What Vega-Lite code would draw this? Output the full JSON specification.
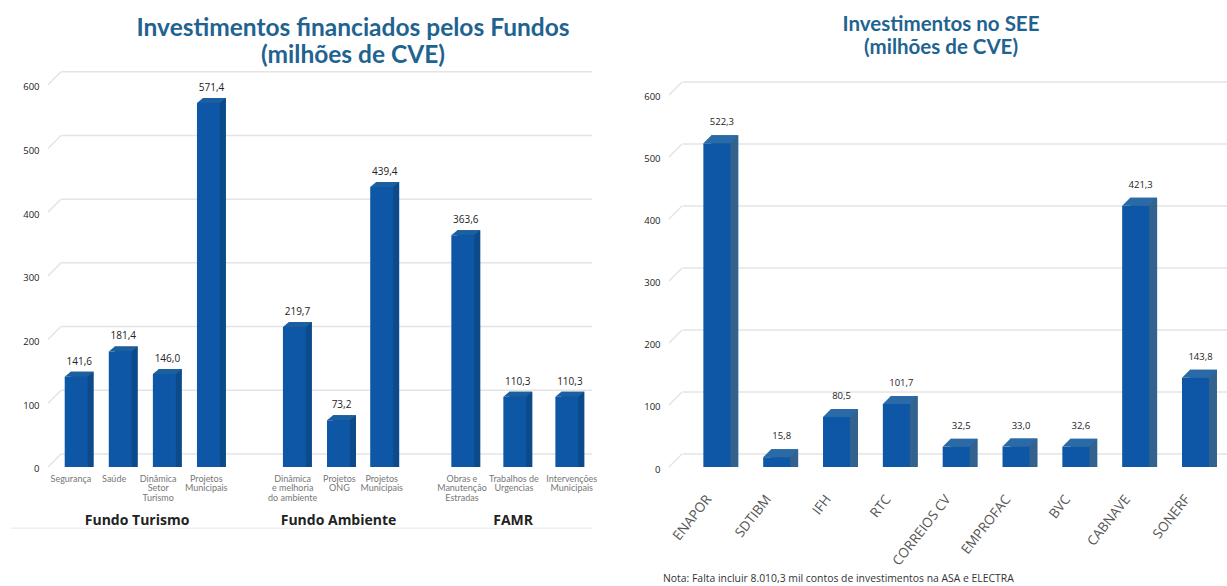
{"$schema":"https://vega.github.io/schema/vega-lite/v6.json","padding":{"left":10,"top":14,"right":0,"bottom":0},"background":"white","spacing":45,"config":{"view":{"stroke":null},"text":{"font":"Open Sans"},"title":{"font":"Lato","fontWeight":"bold","color":"#1f6391"},"axisY":{"grid":false,"domain":false,"ticks":false,"labelPadding":4,"labelOffset":2,"labelFont":"Open Sans","labelFontSize":9.5,"labelColor":"#222"}},"datasets":{"left":[{"cat":"Segurança","label":"Segurança","pos":0.64,"lpos":0.52,"val":141.6,"txt":"141,6","zero":0},{"cat":"Saúde","label":"Saúde","pos":1.64,"lpos":1.5,"val":181.4,"txt":"181,4","zero":0},{"cat":"Dinâmica Setor Turismo","label":"Dinâmica\nSetor\nTurismo","pos":2.64,"lpos":2.5,"val":146.0,"txt":"146,0","zero":0},{"cat":"Projetos Municipais","label":"Projetos\nMunicipais","pos":3.64,"lpos":3.59,"val":571.4,"txt":"571,4","zero":0},{"cat":"Dinâmica e melhoria do ambiente","label":"Dinâmica\ne melhoria\ndo ambiente","pos":5.59,"lpos":5.55,"val":219.7,"txt":"219,7","zero":0},{"cat":"Projetos ONG","label":"Projetos\nONG","pos":6.59,"lpos":6.61,"val":73.2,"txt":"73,2","zero":0},{"cat":"Projetos Municipais 2","label":"Projetos\nMunicipais","pos":7.57,"lpos":7.57,"val":439.4,"txt":"439,4","zero":0},{"cat":"Obras e Manutenção Estradas","label":"Obras e\nManutenção\nEstradas","pos":9.41,"lpos":9.39,"val":363.6,"txt":"363,6","zero":0},{"cat":"Trabalhos de Urgencias","label":"Trabalhos de\nUrgencias","pos":10.59,"lpos":10.57,"val":110.3,"txt":"110,3","zero":0},{"cat":"Intervenções Municipais","label":"Intervenções\nMunicipais","pos":11.77,"lpos":11.88,"val":110.3,"txt":"110,3","zero":0}],"right":[{"cat":"ENAPOR","pos":0.8,"val":522.3,"txt":"522,3","zero":0},{"cat":"SDTIBM","pos":1.8,"val":15.8,"txt":"15,8","zero":0},{"cat":"IFH","pos":2.8,"val":80.5,"txt":"80,5","zero":0},{"cat":"RTC","pos":3.8,"val":101.7,"txt":"101,7","zero":0},{"cat":"CORREIOS CV","pos":4.8,"val":32.5,"txt":"32,5","zero":0},{"cat":"EMPROFAC","pos":5.8,"val":33.0,"txt":"33,0","zero":0},{"cat":"BVC","pos":6.8,"val":32.6,"txt":"32,6","zero":0},{"cat":"CABNAVE","pos":7.8,"val":421.3,"txt":"421,3","zero":0},{"cat":"SONERF","pos":8.8,"val":143.8,"txt":"143,8","zero":0}],"gridl":[{"v":0,"a":0,"s":0.3,"e":12.34},{"v":100,"a":0,"s":0.3,"e":12.34},{"v":200,"a":0,"s":0.3,"e":12.34},{"v":300,"a":0,"s":0.3,"e":12.34},{"v":400,"a":0,"s":0.3,"e":12.34},{"v":500,"a":0,"s":0.3,"e":12.34},{"v":600,"a":0,"s":0.3,"e":12.34}],"gridr":[{"v":0,"a":0,"s":0.23,"e":9.36},{"v":100,"a":0,"s":0.23,"e":9.36},{"v":200,"a":0,"s":0.23,"e":9.36},{"v":300,"a":0,"s":0.23,"e":9.36},{"v":400,"a":0,"s":0.23,"e":9.36},{"v":500,"a":0,"s":0.23,"e":9.36},{"v":600,"a":0,"s":0.23,"e":9.36}]},"hconcat":[{"width":554,"height":515,"title":{"text":["Investimentos financiados pelos Fundos","(milhões de CVE)"],"anchor":"middle","dx":33,"offset":0,"fontSize":24.5,"lineHeight":27.5},"layer":[{"data":{"name":"gridl"},"mark":{"type":"rule","color":"#e4e4e4","strokeWidth":1.5,"yOffset":-13},"encoding":{"x":{"field":"s","type":"quantitative","scale":{"domain":[0,12.34],"nice":false,"zero":false},"axis":null},"x2":{"field":"e"},"y":{"field":"v","type":"quantitative","scale":{"domain":[-188.4,620],"nice":false},"axis":{"values":[0,100,200,300,400,500,600],"title":null}}}},{"data":{"name":"gridl"},"mark":{"type":"point","shape":"M0,0L13,-13","size":4,"filled":false,"stroke":"#e4e4e4","strokeWidth":1.5,"opacity":1},"encoding":{"x":{"field":"a","type":"quantitative","axis":null},"y":{"field":"v","type":"quantitative","axis":{"values":[0,100,200,300,400,500,600],"title":null}}}},{"data":{"name":"left"},"mark":{"type":"bar","orient":"vertical","width":23,"color":"#0c4a8a","xOffset":6,"yOffset":-5},"encoding":{"x":{"field":"pos","type":"quantitative","axis":null},"y":{"field":"val","type":"quantitative","axis":{"values":[0,100,200,300,400,500,600],"title":null}},"y2":{"field":"zero"}}},{"data":{"name":"left"},"mark":{"type":"point","shape":"M11.5,0L11.5,-5L17.5,-5Z","size":4,"filled":true,"color":"#0c4a8a","opacity":1,"strokeWidth":0},"encoding":{"x":{"field":"pos","type":"quantitative","axis":null},"y":{"field":"zero","type":"quantitative","axis":{"values":[0,100,200,300,400,500,600],"title":null}}}},{"data":{"name":"left"},"mark":{"type":"bar","orient":"vertical","width":23,"color":"#0e56a6"},"encoding":{"x":{"field":"pos","type":"quantitative","axis":null},"y":{"field":"val","type":"quantitative","axis":{"values":[0,100,200,300,400,500,600],"title":null}},"y2":{"field":"zero"}}},{"data":{"name":"left"},"mark":{"type":"point","shape":"M-11.5,0L-5.5,-5L17.5,-5L11.5,0Z","size":4,"filled":true,"color":"#1b5f9f","opacity":1,"strokeWidth":0},"encoding":{"x":{"field":"pos","type":"quantitative","axis":null},"y":{"field":"val","type":"quantitative","axis":{"values":[0,100,200,300,400,500,600],"title":null}}}},{"data":{"name":"left"},"mark":{"type":"text","fontSize":10,"color":"#222","yOffset":-15,"xOffset":3},"encoding":{"x":{"field":"pos","type":"quantitative","axis":null},"y":{"field":"val","type":"quantitative","axis":{"values":[0,100,200,300,400,500,600],"title":null}},"text":{"field":"txt"}}},{"data":{"name":"left"},"mark":{"type":"text","font":"Lato","fontSize":9,"color":"#777","lineBreak":"\n","lineHeight":9.5,"baseline":"top","yOffset":8},"encoding":{"x":{"field":"lpos","type":"quantitative","axis":null},"y":{"field":"zero","type":"quantitative","axis":{"values":[0,100,200,300,400,500,600],"title":null}},"text":{"field":"label"}}},{"data":{"values":[{"g":"Fundo Turismo","p":2.02,"z":0},{"g":"Fundo Ambiente","p":6.59,"z":0},{"g":"FAMR","p":10.55,"z":0}]},"mark":{"type":"text","font":"Open Sans","fontSize":14,"fontWeight":"bold","color":"#222","baseline":"middle","yOffset":54},"encoding":{"x":{"field":"p","type":"quantitative","axis":null},"y":{"field":"z","type":"quantitative","axis":{"values":[0,100,200,300,400,500,600],"title":null}},"text":{"field":"g"}}},{"data":{"values":[{"b":-96,"s":-0.84,"e":12.34}]},"mark":{"type":"rule","color":"#e8e8e8","strokeWidth":1},"encoding":{"x":{"field":"s","type":"quantitative","axis":null},"x2":{"field":"e"},"y":{"field":"b","type":"quantitative","axis":{"values":[0,100,200,300,400,500,600],"title":null}}}}]},{"width":570,"height":515,"title":{"text":["Investimentos no SEE","(milhões de CVE)"],"anchor":"middle","offset":14,"dx":-8,"fontSize":20.5,"lineHeight":23},"layer":[{"data":{"name":"gridr"},"mark":{"type":"rule","color":"#e4e4e4","strokeWidth":1.5,"yOffset":-13},"encoding":{"x":{"field":"s","type":"quantitative","scale":{"domain":[0,9.36],"nice":false,"zero":false},"axis":null},"x2":{"field":"e"},"y":{"field":"v","type":"quantitative","scale":{"domain":[-193.5,637],"nice":false},"axis":{"values":[0,100,200,300,400,500,600],"title":null}}}},{"data":{"name":"gridr"},"mark":{"type":"point","shape":"M0,0L13,-13","size":4,"filled":false,"stroke":"#e4e4e4","strokeWidth":1.5,"opacity":1},"encoding":{"x":{"field":"a","type":"quantitative","axis":null},"y":{"field":"v","type":"quantitative","axis":{"values":[0,100,200,300,400,500,600],"title":null}}}},{"data":{"name":"right"},"mark":{"type":"bar","orient":"vertical","width":27,"color":"#33628f","xOffset":8,"yOffset":-8},"encoding":{"x":{"field":"pos","type":"quantitative","axis":null},"y":{"field":"val","type":"quantitative","axis":{"values":[0,100,200,300,400,500,600],"title":null}},"y2":{"field":"zero"}}},{"data":{"name":"right"},"mark":{"type":"point","shape":"M13.5,0L13.5,-8L21.5,-8Z","size":4,"filled":true,"color":"#33628f","opacity":1,"strokeWidth":0},"encoding":{"x":{"field":"pos","type":"quantitative","axis":null},"y":{"field":"zero","type":"quantitative","axis":{"values":[0,100,200,300,400,500,600],"title":null}}}},{"data":{"name":"right"},"mark":{"type":"bar","orient":"vertical","width":27,"color":"#0e56a6"},"encoding":{"x":{"field":"pos","type":"quantitative","axis":null},"y":{"field":"val","type":"quantitative","axis":{"values":[0,100,200,300,400,500,600],"title":null}},"y2":{"field":"zero"}}},{"data":{"name":"right"},"mark":{"type":"point","shape":"M-13.5,0L-5.5,-8L21.5,-8L13.5,0Z","size":4,"filled":true,"color":"#2a6aa6","opacity":1,"strokeWidth":0},"encoding":{"x":{"field":"pos","type":"quantitative","axis":null},"y":{"field":"val","type":"quantitative","axis":{"values":[0,100,200,300,400,500,600],"title":null}}}},{"data":{"name":"right"},"mark":{"type":"text","fontSize":9.5,"color":"#222","yOffset":-21,"xOffset":5},"encoding":{"x":{"field":"pos","type":"quantitative","axis":null},"y":{"field":"val","type":"quantitative","axis":{"values":[0,100,200,300,400,500,600],"title":null}},"text":{"field":"txt"}}},{"data":{"name":"right"},"mark":{"type":"text","fontSize":13.5,"color":"#555","angle":308,"align":"right","baseline":"middle","yOffset":30,"xOffset":-8},"encoding":{"x":{"field":"pos","type":"quantitative","axis":null},"y":{"field":"zero","type":"quantitative","axis":{"values":[0,100,200,300,400,500,600],"title":null}},"text":{"field":"cat"}}},{"data":{"values":[{"n":"Nota: Falta incluir 8.010,3 mil contos de investimentos na ASA e ELECTRA","p":-0.1,"b":-180}]},"mark":{"type":"text","fontSize":10.4,"color":"#333","align":"left","baseline":"middle"},"encoding":{"x":{"field":"p","type":"quantitative","axis":null},"y":{"field":"b","type":"quantitative","axis":{"values":[0,100,200,300,400,500,600],"title":null}},"text":{"field":"n"}}}]}]}
